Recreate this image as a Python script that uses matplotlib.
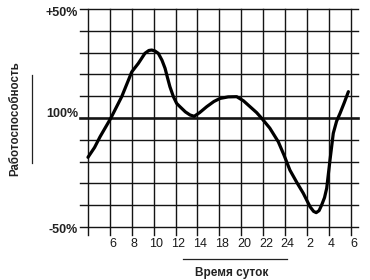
import numpy as np
import matplotlib
matplotlib.use("Agg")
import matplotlib.pyplot as plt

# time axis: grid positions (every 2 h, starting at 4 h), labels as printed
tick_pos = [1, 2, 3, 4, 5, 6, 7, 8, 9, 10, 11, 12]
tick_labels = ["6", "8", "10", "12", "14", "18", "20", "22", "24", "2", "4", "6"]

# performance curve, % deviation from the daily mean
t_pos = [0.0, 0.3, 0.55, 1.04, 1.54, 2.0, 2.3, 2.6, 2.78, 2.91, 3.05, 3.21,
         3.38, 3.52, 3.62, 3.74, 3.9, 4.05, 4.2, 4.45, 4.66, 4.85, 5.1,
         5.42, 5.75, 6.03, 6.4, 6.79, 7.1, 7.4, 7.7, 7.93, 8.3, 8.69, 8.95,
         9.22, 9.55, 9.83, 10.14, 10.3, 10.42, 10.55, 10.67, 10.8, 10.9,
         11.05, 11.2, 11.35, 11.51, 11.7, 11.89]
perf = [-18.0, -13.5, -8.6, -0.1, 9.8, 21.2, 25.1, 29.7, 31.0, 31.2, 30.8,
        29.7, 26.5, 22.8, 18.9, 14.4, 9.8, 6.7, 5.2, 2.8, 1.4, 0.8, 2.5,
        5.2, 7.6, 9.0, 9.7, 9.8, 7.9, 5.2, 2.5, -0.1, -4.6, -10.9, -17.0,
        -23.9, -29.8, -34.5, -40.7, -42.8, -43.4, -42.5, -39.9, -36.5,
        -32.2, -19.3, -7.0, -1.5, 2.2, 7.0, 12.1]

y_levels = np.arange(-50, 51, 10)
y_labels = {50: "+50%", 0: "100%", -50: "-50%"}
y_label_shift = {50: -1.8, 0: 1.8, -50: -1.2}  # small print offsets

plt.rcParams["font.family"] = ["Liberation Sans", "DejaVu Sans"]

fig = plt.figure(figsize=(3.7, 2.8), dpi=100)
ax = fig.add_axes([0.2082, 0.1425, 0.7695, 0.8407])
ax.set_xlim(-0.5, 12.5)
ax.set_ylim(-56, 52)
ax.axis("off")

# grid
for y in y_levels:
    lw = 1.9 if y == 0 else 1.0
    ax.plot([-0.37, 12.33], [y, y], color="#141414", lw=lw)
for x in range(0, 13):
    ax.plot([x, x], [50, -53.7], color="#141414", lw=1.0)

# curve
ax.plot(t_pos, perf, color="black", lw=2.3, solid_joinstyle="round",
        solid_capstyle="round")

# labels
for y, s in y_labels.items():
    ax.text(-0.45, y + y_label_shift[y], s, ha="right", va="center",
            fontsize=9, fontweight="bold", color="#222222", clip_on=False)
for x, s in zip(tick_pos, tick_labels):
    ax.text(x + 0.12, -57.8, s, ha="center", va="center", fontsize=9,
            color="#1a1a1a", clip_on=False)

fig.text(232 / 370, 1 - 273 / 280, "Время суток", ha="center", va="center",
         fontsize=8.5, fontweight="bold", color="#222222")
fig.add_artist(plt.Line2D([183 / 370, 287 / 370], [1 - 259 / 280, 1 - 259 / 280],
                          color="#222222", lw=0.9))
fig.text(15 / 370, 1 - 119 / 280, "Работоспособность", rotation=90,
         ha="center", va="center", fontsize=8.3, fontweight="bold",
         color="#222222")
fig.add_artist(plt.Line2D([32 / 370, 32 / 370], [1 - 75 / 280, 1 - 163 / 280],
                          color="#222222", lw=0.9))

fig.savefig("out.png", dpi=100)
